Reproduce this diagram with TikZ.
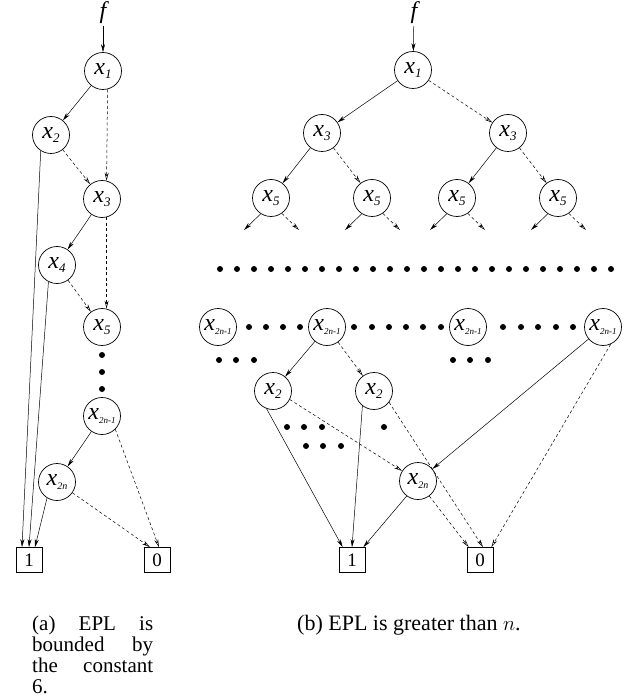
\documentclass[tikz,border=0pt]{standalone}
\usepackage{fontspec}
\setmainfont{Liberation Serif}
\usetikzlibrary{arrows.meta}
\newcommand\xsub[2][13]{\makebox[0pt]{\fontsize{24}{24}\selectfont\textit{x}\raisebox{-4pt}{\fontsize{#1}{#1}\selectfont\textit{#2}}}}
\begin{document}
\begin{tikzpicture}[x=1pt,y=-1pt,
  vn/.style={circle, draw, line width=0.7pt, minimum size=37pt, inner sep=0pt},
  leaf/.style={rectangle, draw, line width=0.7pt, minimum width=26pt, minimum height=25pt, inner sep=0pt, font=\fontsize{19}{19}\selectfont},
  sol/.style={-{Stealth[length=8pt,width=4pt]}, line width=0.5pt},
  das/.style={-{Stealth[open,length=8pt,width=4pt]}, line width=0.5pt, dash pattern=on 3pt off 2.5pt},
  fn/.style={inner sep=2pt, font=\fontsize{24}{24}\selectfont\itshape}]
\useasboundingbox (0,0) rectangle (642,700);
\newcommand\dotat[2]{\fill (#1,#2) circle (3pt);}
% ---------------- (a) ----------------
\node[fn] (af) at (103,13) {f};
\node[vn] (aX1) at (103,71) {\xsub{1}};
\node[vn] (aX2) at (51,135) {\xsub{2}};
\node[vn] (aX3) at (102,199) {\xsub{3}};
\node[vn] (aX4) at (57,265) {\xsub{4}};
\node[vn] (aX5) at (102,327) {\xsub{5}};
\node[vn] (aXm) at (102,416) {\xsub[9]{2n-1}};
\node[vn] (aXn) at (57,482) {\xsub[10]{2n}};
\node[leaf] (a1) at (29,560) {1};
\node[leaf] (a0) at (157,560) {0};
\dotat{102}{355}\dotat{102}{372}\dotat{102}{389}
\draw[sol] (af) -- (aX1);
\draw[sol] (aX1) -- (aX2);
\draw[das] (aX1.-76) -- (aX3.76);
\draw[das] (aX2) -- (aX3);
\draw[sol] (aX3) -- (aX4);
\draw[das] (aX3.-76) -- (aX5.76);
\draw[das] (aX4) -- (aX5);
\draw[sol] (aXm) -- (aXn);
\draw[sol] (aX2.-123) -- ([xshift=-7pt]a1.north);
\draw[sol] (aX4.-117) -- (a1.north);
\draw[sol] (aXn.-122) -- ([xshift=6pt]a1.north);
\draw[das] (aXm.-45) -- ([xshift=2pt]a0.north);
\draw[das] (aXn.-35) -- ([xshift=-7pt]a0.north);
% ---------------- (b) ----------------
\node[fn] (bf) at (414,13) {f};
\node[vn] (bX1) at (413,70) {\xsub{1}};
\node[vn] (bX3l) at (322,133) {\xsub{3}};
\node[vn] (bX3r) at (508,133) {\xsub{3}};
\draw[sol] (bf) -- (bX1);
\draw[sol] (bX1) -- (bX3l);
\draw[das] (bX1) -- (bX3r);
\foreach \i/\x in {1/271,2/372,3/457,4/558}{
  \node[vn] (b5\i) at (\x,198) {\xsub{5}};
  \coordinate (b5\i L) at (\x-27,230);
  \coordinate (b5\i R) at (\x+28,230);
  \draw[sol] (b5\i.-123) -- (b5\i L);
  \draw[das] (b5\i.-55) -- (b5\i R);
}
\draw[sol] (bX3l) -- (b51);
\draw[das] (bX3l) -- (b52);
\draw[sol] (bX3r) -- (b53);
\draw[das] (bX3r) -- (b54);
\foreach \k in {0,...,23}{\fill (220+17*\k,269) circle (3pt);}
\node[vn] (bM1) at (218,327) {\xsub[9]{2n-1}};
\node[vn] (bM2) at (327,327) {\xsub[9]{2n-1}};
\node[vn] (bM3) at (468,327) {\xsub[9]{2n-1}};
\node[vn] (bM4) at (603,327) {\xsub[9]{2n-1}};
\foreach \x in {249,266,283,300,354,372,389,406,423,441,503,521,538,556,573}{\fill (\x,327) circle (3pt);}
\foreach \x in {219,236,254,453,470,488}{\fill (\x,360) circle (3pt);}
\node[vn] (bY1) at (273,391) {\xsub{2}};
\node[vn] (bY2) at (374,391) {\xsub{2}};
\foreach \x in {287,304,322,384}{\fill (\x,427) circle (3pt);}
\foreach \x in {306,323,341}{\fill (\x,446) circle (3pt);}
\node[vn] (bN) at (418,481) {\xsub[10]{2n}};
\node[leaf] (b1) at (352,560) {1};
\node[leaf] (b0) at (480,560) {0};
\draw[sol] (bM2) -- (bY1);
\draw[das] (bM2) -- (bY2);
\draw[sol] (bM4) -- (bN);
\draw[das] (bM4.-66) -- ([xshift=-2pt]b0.north east);
\draw[sol] (bY1.-110) -- ([xshift=4pt]b1.north west);
\draw[das] (bY1.-27) -- (bN);
\draw[sol] (bY2.-128) -- (b1.north);
\draw[das] (bY2.-37) -- ([xshift=3pt]b0.north);
\draw[sol] (bN.-127) -- ([xshift=-2pt]b1.north east);
\draw[das] (bN.-53) -- ([xshift=2pt]b0.north west);
% ---------------- captions ----------------
\node[anchor=base west, inner sep=0pt] (capa) at (32,630) {\fontsize{21}{21}\selectfont\parbox[t]{121pt}{%
  \makebox[121pt][s]{(a) EPL is}\\
  \makebox[121pt][s]{bounded by}\\
  \makebox[121pt][s]{the constant}\\
  6.}};
\node[anchor=base west, inner sep=0pt] (capb) at (297,630) {\fontsize{22}{22}\selectfont (b) EPL is greater than $n$.};
\end{tikzpicture}
\end{document}
